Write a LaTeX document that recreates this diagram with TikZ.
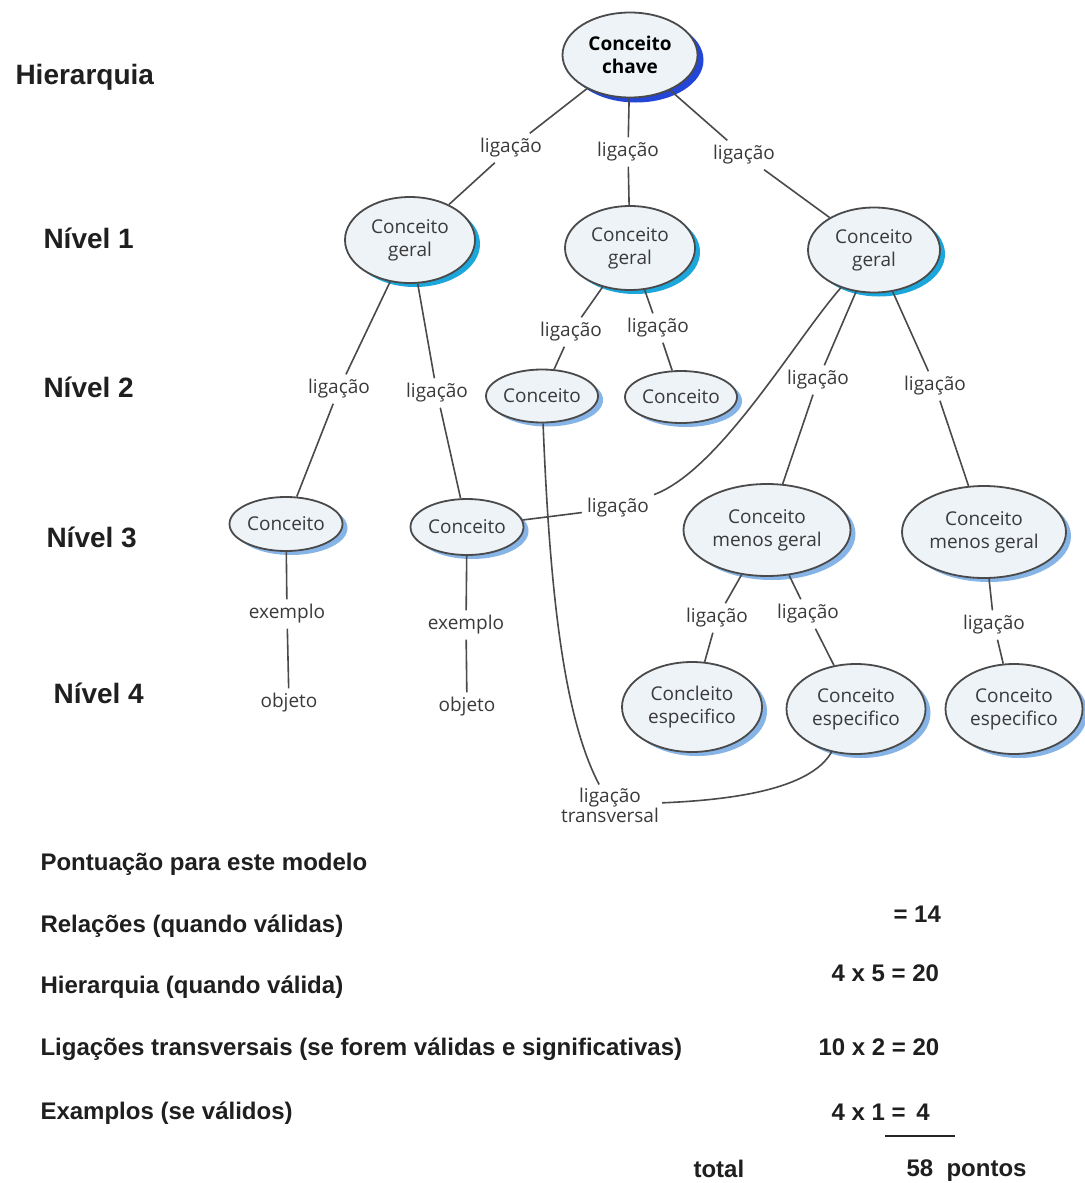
\documentclass[tikz,border=0pt]{standalone}
\usepackage{fontspec}
\setmainfont{Liberation Sans}
\newfontfamily\mapfont{Open Sans}
\usetikzlibrary{shapes.geometric,shadows}
\definecolor{linegray}{HTML}{4A4A4A}
\definecolor{nodefill}{HTML}{EEF3F8}
\definecolor{txtgray}{HTML}{3A3A3A}
\definecolor{shadecyan}{HTML}{1BA6DC}
\definecolor{shadelight}{HTML}{86B4E6}
\definecolor{shadedark}{HTML}{2346D6}
\begin{document}
\begin{tikzpicture}[x=1pt,y=-1pt,
  concept/.style={ellipse, draw=linegray, line width=1.8pt, fill=nodefill,
    align=center, font=\mapfont\fontsize{19}{23}\selectfont, text=txtgray,
    inner sep=0pt,
    drop shadow={shadow xshift=5pt, shadow yshift=-4pt, fill=#1, opacity=1}},
  link/.style={font=\mapfont\fontsize{19}{23}\selectfont, text=txtgray,
    inner sep=5pt, align=center},
  conn/.style={draw=linegray, line width=1.6pt},
  level/.style={font=\bfseries\fontsize{28}{32}\selectfont, text=black!88, anchor=west},
  score/.style={font=\bfseries\fontsize{24}{28}\selectfont, text=black!88, anchor=base west},
]
\useasboundingbox (0,0) rectangle (1084,1183);
\fill[white] (0,0) rectangle (1084,1183);

% level captions
\node[level] (hq) at (12,77) {Hierarquia};
\node[level] (n1) at (40,238) {Nível 1};
\node[level] (n2) at (40,387) {Nível 2};
\node[level] (n3) at (43,537) {Nível 3};
\node[level] (n4) at (50,693) {Nível 4};

% concepts
\node[concept=shadedark, minimum width=135pt, minimum height=85pt,
  font=\mapfont\bfseries\fontsize{19}{23}\selectfont, text=black,
  drop shadow={shadow xshift=6pt, shadow yshift=-5pt, fill=shadedark, opacity=1}]
  (key) at (630,55) {Conceito\\chave};

\node[concept=shadecyan, minimum width=130pt, minimum height=86pt] (g1) at (410,240) {Conceito\\geral};
\node[concept=shadecyan, minimum width=130pt, minimum height=84pt] (g2) at (630,248) {Conceito\\geral};
\node[concept=shadecyan, minimum width=132pt, minimum height=85pt] (g3) at (874,250) {Conceito\\geral};

\node[concept=shadelight, minimum width=112pt, minimum height=53pt, inner xsep=-8pt] (c2a) at (542,396) {Conceito};
\node[concept=shadelight, minimum width=112pt, minimum height=52pt, inner xsep=-8pt] (c2b) at (681,397) {Conceito};

\node[concept=shadelight, minimum width=113pt, minimum height=54pt, inner xsep=-8pt] (c3a) at (286,524) {Conceito};
\node[concept=shadelight, minimum width=113pt, minimum height=56pt, inner xsep=-8pt] (c3b) at (467,527) {Conceito};
\node[concept=shadelight, minimum width=167pt, minimum height=92pt] (m3a) at (767,530) {Conceito\\menos geral};
\node[concept=shadelight, minimum width=164pt, minimum height=92pt] (m3b) at (984,532) {Conceito\\menos geral};

\node[concept=shadelight, minimum width=140pt, minimum height=90pt] (s4a) at (692,707) {Concleito\\especifico};
\node[concept=shadelight, minimum width=139pt, minimum height=90pt] (s4b) at (856,709) {Conceito\\especifico};
\node[concept=shadelight, minimum width=137pt, minimum height=90pt] (s4c) at (1014,709) {Conceito\\especifico};

% linking words
\node[link] (l1) at (511,148) {ligação};
\node[link] (l2) at (628,152) {ligação};
\node[link] (l3) at (744,155) {ligação};
\node[link] (l4) at (339,389) {ligação};
\node[link] (l5) at (437,393) {ligação};
\node[link] (l6) at (571,332) {ligação};
\node[link] (l7) at (658,328) {ligação};
\node[link] (l8) at (818,380) {ligação};
\node[link] (l9) at (935,386) {ligação};
\node[link] (xl) at (618,508) {ligação};
\node[link] (l10) at (717,618) {ligação};
\node[link] (l11) at (808,614) {ligação};
\node[link] (l12) at (994,625) {ligação};
\node[link] (e1) at (287,614) {exemplo};
\node[link] (o1) at (289,703) {objeto};
\node[link] (e2) at (466,625) {exemplo};
\node[link] (o2) at (467,707) {objeto};
\node[link, inner sep=3pt] (xt) at (610,805) {ligação\\[-3pt]transversal};

% hierarchy connectors
\draw[conn] (key) -- (l1) -- (g1);
\draw[conn] (key) -- (l2) -- (g2);
\draw[conn] (key) -- (l3) -- (g3);
\draw[conn] (g1) -- (l4) -- (c3a);
\draw[conn] (g1) -- (l5) -- (c3b);
\draw[conn] (g2) -- (l6) -- (c2a);
\draw[conn] (g2) -- (l7) -- (c2b);
\draw[conn] (g3) -- (l8) -- (m3a);
\draw[conn] (g3) -- (l9) -- (m3b);
\draw[conn] (m3a) -- (l10) -- (s4a);
\draw[conn] (m3a) -- (l11) -- (s4b);
\draw[conn] (m3b) -- (l12) -- (s4c);
\draw[conn] (c3a) -- (e1) -- (o1);
\draw[conn] (c3b) -- (e2) -- (o2);

% cross links
\draw[conn] (g3) .. controls (795,340) and (720,470) .. (xl);
\draw[conn] (xl) -- (c3b);
\draw[conn] (c2a) .. controls (550,600) and (565,720) .. (xt);
\draw[conn] (xt) .. controls (730,800) and (810,790) .. (s4b);

% scoring table
\node[score] (p0) at (37,870) {Pontuação para este modelo};
\node[score] (p1) at (37,932) {Relações (quando válidas)};
\node[score] (p2) at (37,993) {Hierarquia (quando válida)};
\node[score] (p3) at (37,1055) {Ligações transversais (se forem válidas e significativas)};
\node[score] (p4) at (37,1119) {Examplos (se válidos)};
\node[score] (v1) at (890,922) {= 14};
\node[score] (v2) at (828,981) {4 x 5 = 20};
\node[score] (v3) at (815,1055) {10 x 2 = 20};
\node[score] (v4) at (828,1120) {4 x 1 =\ \,4};
\coordinate (sumL) at (885,1136);
\coordinate (sumR) at (955,1136);
\draw[line width=2.6pt, black!85] (sumL) -- (sumR);
\node[score] (tt) at (690,1177) {total};
\node[score] (tot) at (903,1176) {58\ \ pontos};
\end{tikzpicture}
\end{document}
